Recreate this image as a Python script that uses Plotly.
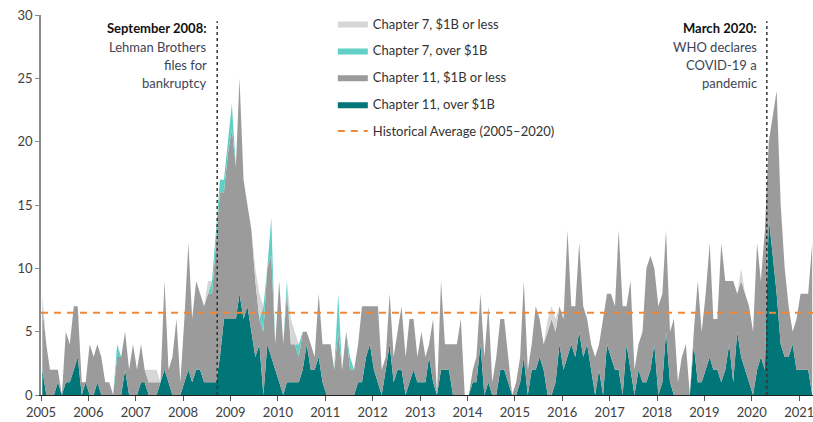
import pandas as pd
import plotly.graph_objects as go

# ---- data (monthly counts, Jan 2005 .. Apr 2021) ----
ch11_over = [2,0,0,0,1,0,1,1,2,3,0,1, 0,0,1,0,0,0,0,0,0,2,0,0,
             0,1,1,0,0,0,1,2,1,0,0,0, 1,2,1,2,2,1,1,1,1,3,6,6,
             6,6,8,6,7,5,3,4,0,4,3,2, 1,0,1,1,1,1,2,4,2,2,3,1,
             0,0,0,0,0,0,0,0,1,1,3,4, 2,1,0,2,4,1,2,2,0,1,2,1,
             1,1,3,1,0,2,2,2,0,0,0,0, 0,1,1,4,0,1,0,0,2,2,1,0,
             0,1,3,0,2,2,3,2,0,0,1,4, 2,3,4,3,5,3,4,2,0,2,0,4,
             3,2,2,0,4,2,0,2,1,1,2,4, 0,1,5,1,0,0,0,0,0,4,1,1,
             2,3,2,2,1,2,4,1,5,3,2,1, 0,2,3,2,14,11,8,4,3,3,4,2,
             2,2,2,0]
ch11_under = [5,4,2,2,1,0,4,3,5,4,1,0, 4,3,3,3,1,1,0,3,3,3,2,4,
              2,3,1,1,1,1,0,7,1,3,6,1, 5,10,5,7,6,6,7,7,11,13,10,13,
              15,12,17,11,8,8,6,2,5,6,8,2, 8,4,7,3,3,2,3,1,2,1,5,3,
              4,4,2,5,2,5,2,2,3,6,4,3, 5,6,2,1,4,2,3,5,3,5,4,2,
              4,2,1,5,0,7,2,2,4,4,6,0, 0,1,2,4,3,6,1,3,4,4,2,0,
              1,2,6,2,2,5,3,2,5,6,4,3, 4,10,3,4,7,4,2,2,3,2,6,4,
              5,5,11,7,3,7,2,2,4,9,9,6, 7,7,8,4,6,1,3,4,0,1,8,4,
              6,9,4,4,11,7,5,8,3,6,6,6, 5,10,6,11,6,11,16,11,7,4,1,4,
              6,6,6,12]
ch7_over = [0]*196
for m, v in {19: 1, 43: 1, 44: 1, 45: 1, 46: 1, 47: 1, 48: 2, 56: 2, 58: 3,
             62: 1, 65: 1, 75: 3, 78: 1}.items():
    ch7_over[m] = v
ch7_under = [0]*196
for m, v in {0: 1, 27: 1, 28: 1, 29: 1, 42: 1, 54: 1, 55: 2, 63: 2, 64: 1,
             128: 1, 129: 1, 130: 1, 177: 1}.items():
    ch7_under[m] = v

HIST_AVG = 6.5
months = pd.date_range("2005-01-01", periods=len(ch11_over), freq="MS") + pd.Timedelta(days=10)
X_START, X_END = "2005-01-01", "2021-04-17"
LEHMAN_X, COVID_X = "2008-09-20", "2020-04-26"
YEAR_TICKS = [f"{y}-01-01" for y in range(2005, 2022)]
YEAR_LABELS = [str(y) for y in range(2005, 2022)]
LEHMAN_LINES = ["<b>September 2008:</b>", "Lehman Brothers", "files for", "bankruptcy"]
COVID_LINES = ["<b>March 2020:</b>", "WHO declares", "COVID-19 a", "pandemic"]
LINE_Y = [28.95, 27.45, 26.05, 24.65]

FONT = "Lato"
TEAL, GRAY, TURQ, LGRAY, ORANGE = "#007679", "#9b9b9b", "#62cfc7", "#d6d6d6", "#f0883a"

fig = go.Figure()
series = [
    ("Chapter 11, over $1B", ch11_over, TEAL, 4),
    ("Chapter 11, $1B or less", ch11_under, GRAY, 3),
    ("Chapter 7, over $1B", ch7_over, TURQ, 2),
    ("Chapter 7, $1B or less", ch7_under, LGRAY, 1),
]
for name, vals, col, rank in series:
    fig.add_trace(go.Scatter(
        x=months, y=vals, name=name, stackgroup="one", mode="lines",
        line=dict(width=0, color=col), fillcolor=col,
        legendgroup=name, legendrank=rank))
fig.add_trace(go.Scatter(
    x=[X_START, X_END], y=[HIST_AVG, HIST_AVG], mode="lines",
    name="Historical Average (2005\u20132020)",
    line=dict(color=ORANGE, width=2, dash="7px,6px"),
    legendgroup="avg", legendrank=5))

for xv in (LEHMAN_X, COVID_X):
    fig.add_shape(type="line", x0=xv, x1=xv, y0=0, y1=29.5, xref="x", yref="y",
                  line=dict(color="#333333", width=1.5, dash="dot"))

sub = "#3d4456"
for xv, lines in ((LEHMAN_X, LEHMAN_LINES), (COVID_X, COVID_LINES)):
    for i, (txt, yv) in enumerate(zip(lines, LINE_Y)):
        fig.add_annotation(x=xv, y=yv, xref="x", yref="y", xanchor="right", yanchor="middle",
                           xshift=-8, align="right", showarrow=False, text=txt,
                           font=dict(family=FONT, size=13, color="#111111" if i == 0 else sub))

fig.update_layout(
    width=813, height=422,
    margin=dict(l=41, r=0, t=15, b=27, autoexpand=False),
    paper_bgcolor="white", plot_bgcolor="white",
    font=dict(family=FONT, size=13, color="#404040"),
    showlegend=True,
    legend=dict(x=0.378, y=1.017, xanchor="left", yanchor="top",
                bgcolor="rgba(0,0,0,0)", tracegroupgap=7,
                font=dict(family=FONT, size=13, color="#333333")),
    xaxis=dict(type="date", range=[X_START, X_END], tickvals=YEAR_TICKS, ticktext=YEAR_LABELS,
               automargin=False, ticklabeloverflow="allow",
               showgrid=False, zeroline=False, showline=True, linecolor="#222222", linewidth=1,
               ticks="outside", ticklen=5, tickcolor="#555555",
               tickfont=dict(family=FONT, size=13, color="#404040")),
    yaxis=dict(range=[0, 30], tickvals=[0, 5, 10, 15, 20, 25, 30], automargin=False,
               showgrid=False, zeroline=False, showline=True, linecolor="#8a8a8a", linewidth=1.5,
               ticks="outside", ticklen=4, tickcolor="#8a8a8a",
               tickfont=dict(family=FONT, size=13, color="#404040")),
)
fig.write_html("out.html", config={"displayModeBar": False},
               post_script="document.body.style.margin='0px';")
